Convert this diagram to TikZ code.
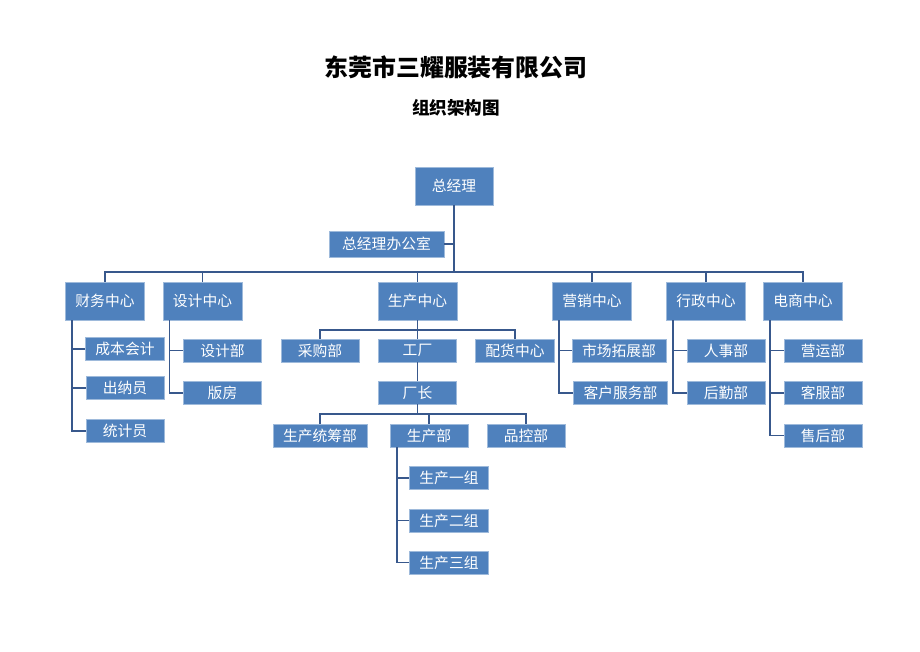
\documentclass[tikz,border=0pt]{standalone}
\usepackage{fontspec}
\newfontfamily\cjk{Noto Sans CJK SC}
\usetikzlibrary{positioning}
\definecolor{boxblue}{RGB}{79,129,189}
\definecolor{lineblue}{RGB}{56,88,140}
\tikzset{
  box/.style={fill=boxblue, draw=boxblue!55!white, line width=0.4pt, text=white,
    font=\cjk\fontsize{10.5}{12}\selectfont, minimum width=1.95cm,
    minimum height=0.575cm, inner xsep=0.25cm, inner ysep=0pt},
  conn/.style={lineblue, line width=1.4pt}
}

\begin{document}
\begin{tikzpicture}[x=0.025cm, y=-0.025cm]
\useasboundingbox (0,0) rectangle (920,651);
\node[font=\cjk\bfseries\fontsize{17}{20}\selectfont] (title) at (456,67) {东莞市三耀服装有限公司};
\node[font=\cjk\bfseries\fontsize{12.5}{15}\selectfont] (subtitle) at (456,108) {组织架构图};

\node[box, minimum height=0.95cm] (gm) at (454,186) {总经理};
\node[box, minimum width=2.875cm, minimum height=0.65cm] (office) at (386.5,244) {总经理办公室};
\foreach \n/\x/\t in {cw/105/财务中心, sj/202.5/设计中心, sc/417.5/生产中心, yx/592/营销中心, xz/706/行政中心, ds/803/电商中心} {
  \node[box, minimum height=0.95cm] (\n) at (\x,301) {\t};
}
\foreach \n/\x/\y/\t in {cw1/125/349/成本会计, cw2/125/388/出纳员, cw3/125/431/统计员,
    sj1/222.5/350.5/设计部, sj2/222.5/393/版房,
    cg/320/350.5/采购部, gc/417.5/350.5/工厂, ph/515/350.5/配货中心, cz/417.5/392.5/厂长,
    tc/320/435.5/生产统筹部, scb/429/435.5/生产部, qc/526/435.5/品控部,
    scb1/449/478/生产一组, scb2/449/520.5/生产二组, scb3/449/562.5/生产三组,
    yx1/619/350.5/市场拓展部, yx2/620.5/393/客户服务部,
    xz1/726/350.5/人事部, xz2/726/393/后勤部,
    ds1/823/350.5/营运部, ds2/823/393/客服部, ds3/823/435.5/售后部} {
  \node[box] (\n) at (\x,\y) {\t};
}

% top level
\coordinate (topbus) at (454,272);
\draw[conn] (gm) -- (topbus);
\draw[conn] (office.east) -- (office.east -| topbus);
\draw[conn] (cw.north) |- (topbus) -| (ds.north);
\foreach \n in {sj,sc,yx,xz} {
  \draw[conn] (\n.north) -- (\n.north |- topbus);
}

% side branches
\foreach \p/\c in {cw/cw1, cw/cw2, cw/cw3, sj/sj1, sj/sj2, yx/yx1, yx/yx2,
    xz/xz1, xz/xz2, ds/ds1, ds/ds2, ds/ds3, scb/scb1, scb/scb2, scb/scb3} {
  \draw[conn] ([xshift=0.17cm]\p.south west) |- (\c.west);
}

% production
\coordinate (scbus) at (417.5,330);
\draw[conn] (sc) -- (gc);
\draw[conn] (cg.north) |- (scbus) -| (ph.north);
\draw[conn] (gc) -- (cz);
\coordinate (czbus) at (417.5,414);
\draw[conn] (cz) -- (czbus);
\draw[conn] (tc.north) |- (czbus) -| (qc.north);
\draw[conn] (scb.north) -- (scb.north |- czbus);
\end{tikzpicture}
\end{document}
